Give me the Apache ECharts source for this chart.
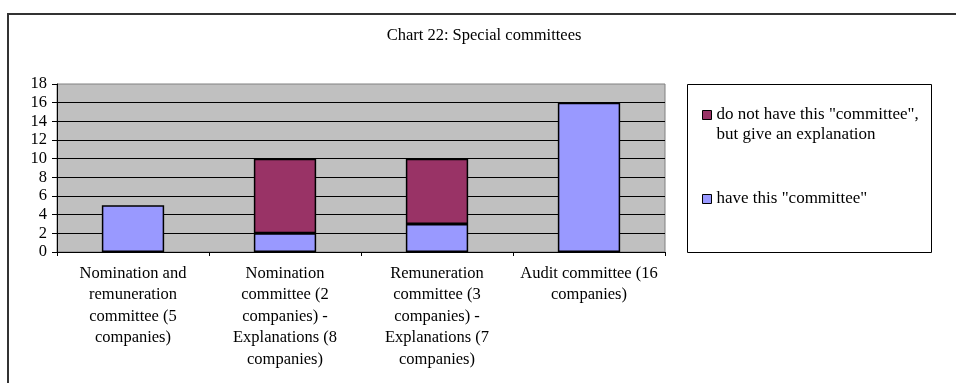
<!DOCTYPE html>
<html>
<head>
<meta charset="utf-8">
<script src="https://cdn.jsdelivr.net/npm/echarts@6/dist/echarts.min.js"></script>
<style>
html,body{margin:0;padding:0;background:#fff;}
#c{width:956px;height:383px;}
</style>
</head>
<body>
<div id="c"></div>
<script>
const titleText = 'Chart 22: Special committees';
const categories = [
  'Nomination and\nremuneration\ncommittee (5\ncompanies)',
  'Nomination\ncommittee (2\ncompanies) -\nExplanations (8\ncompanies)',
  'Remuneration\ncommittee (3\ncompanies) -\nExplanations (7\ncompanies)',
  'Audit committee (16\ncompanies)'
];
const seriesNames = ['have this "committee"', 'do not have this "committee",\nbut give an explanation'];
const haveValues = [5, 2, 3, 16];
const explanationValues = ['-', 8, 7, '-'];
const yTicks = {min: 0, max: 18, interval: 2};
const colors = ['#9999ff', '#993366'];

const FONT = '"Liberation Serif", "Times New Roman", serif';
const chart = echarts.init(document.getElementById('c'), null, {renderer: 'canvas'});
chart.setOption({
  animation: false,
  backgroundColor: '#ffffff',
  title: {
    text: titleText,
    left: 479, top: 22, textAlign: 'center',
    textStyle: {fontFamily: FONT, fontSize: 16.5, fontWeight: 'normal', color: '#000'}
  },
  graphic: [
    {type: 'rect', shape: {x: 8, y: 14, width: 960, height: 380}, style: {fill: 'none', stroke: '#333', lineWidth: 2}, silent: true},
    {type: 'rect', shape: {x: 687.5, y: 84.5, width: 244, height: 168}, style: {fill: '#fff', stroke: '#000', lineWidth: 1}, silent: true, z: -1}
  ],
  legend: [
    {
      data: [seriesNames[1]], orient: 'vertical', left: 702, top: 85, padding: 0,
      itemWidth: 9, itemHeight: 9, itemGap: 5, selectedMode: false,
      icon: 'rect',
      formatter: function (name) { return '\n' + name; },
      itemStyle: {borderColor: '#000', borderWidth: 1},
      textStyle: {fontFamily: FONT, fontSize: 17, color: '#000', lineHeight: 20}
    },
    {
      data: [seriesNames[0]], orient: 'vertical', left: 702, top: 189, padding: 0,
      itemWidth: 9, itemHeight: 9, itemGap: 5, selectedMode: false,
      icon: 'rect',
      itemStyle: {borderColor: '#000', borderWidth: 1},
      textStyle: {fontFamily: FONT, fontSize: 17, color: '#000', lineHeight: 20}
    }
  ],
  grid: {
    left: 57, right: 291, top: 84, bottom: 131,
    show: true, backgroundColor: '#c0c0c0', borderColor: '#808080', borderWidth: 1,
    containLabel: false
  },
  xAxis: {
    type: 'category', data: categories,
    axisLine: {lineStyle: {color: '#000', width: 1}},
    axisTick: {show: true, length: 4, lineStyle: {color: '#000'}},
    axisLabel: {interval: 0, margin: 11, fontFamily: FONT, fontSize: 16.5, lineHeight: 21.4, color: '#000'}
  },
  yAxis: {
    type: 'value', min: yTicks.min, max: yTicks.max, interval: yTicks.interval,
    axisLine: {show: true, lineStyle: {color: '#000', width: 1}},
    axisTick: {show: true, length: 5, lineStyle: {color: '#000'}},
    axisLabel: {margin: 10, fontFamily: FONT, fontSize: 16.5, color: '#000'},
    splitLine: {show: true, showMaxLine: false, lineStyle: {color: '#000', width: 1}}
  },
  series: [
    {
      name: seriesNames[0], type: 'bar', stack: 'a', data: haveValues,
      barCategoryGap: '59%',
      itemStyle: {color: colors[0], borderColor: '#000', borderWidth: 1.5}
    },
    {
      name: seriesNames[1], type: 'bar', stack: 'a', data: explanationValues,
      barCategoryGap: '59%',
      itemStyle: {color: colors[1], borderColor: '#000', borderWidth: 1.5}
    }
  ]
});
</script>
</body>
</html>
